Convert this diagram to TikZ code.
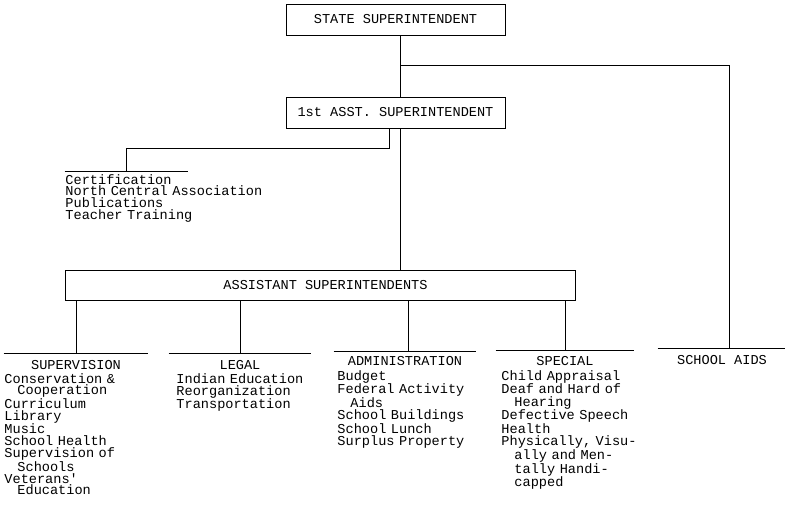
\documentclass[tikz,border=0pt]{standalone}
\usepackage{fontspec}
\setmonofont{Liberation Mono}
\usetikzlibrary{positioning, calc}
\newcommand{\typew}{\ttfamily\fontsize{13.6}{12.4}\selectfont}
\newcommand{\cont}{\hspace*{13pt}}
\tikzset{
    office/.style = {draw=black, inner sep=0pt, text centered,
        minimum height=31pt, font=\typew},
    depthead/.style = {inner xsep=0pt, inner ysep=7pt, text height=9pt,
        text depth=0pt, text centered, minimum width=#1, anchor=north, font=\typew},
    duties/.style = {inner sep=0pt, text width=210pt, align=left, anchor=base west,
        font=\typew\fontsize{13.6}{#1}\selectfont},
    duties/.default = 12.4,
}

\begin{document}
\begin{tikzpicture}[x=1pt, y=-1pt, line width=0.9pt]
    \useasboundingbox (0,0) rectangle (785,507);

    % offices
    \node (state) [office, minimum width=219pt] at (395.5,19.5) {STATE SUPERINTENDENT};
    \node (first) [office, minimum width=219pt] at (395.5,112.5) {1st ASST. SUPERINTENDENT};
    \node (asst) [office, minimum width=510pt, minimum height=30pt] at (320,285)
        {\hspace*{11pt}ASSISTANT SUPERINTENDENTS};

    % divisions under the bars
    \node (suphead) [depthead=144pt] at (76,353) {SUPERVISION};
    \node (leghead) [depthead=142pt] at (240,353) {LEGAL};
    \node (admhead) [depthead=142pt, inner ysep=5pt] at (405,351) {ADMINISTRATION};
    \node (spchead) [depthead=138pt, inner ysep=6pt] at (565,350) {SPECIAL};
    \node (aidhead) [depthead=128pt] at (722,348) {SCHOOL AIDS};
    \node (cert) [depthead=123pt, text height=0pt, inner ysep=0pt] at (126.5,171) {};
    \foreach \h in {suphead, leghead, admhead, spchead, aidhead, cert}
        \draw (\h.north west) -- (\h.north east);

    \node (certitems) [duties=11.7] at (65,184) {Certification\\North Central Association\\Publications\\Teacher Training};
    \node (supitems) [duties=11.8] at (4,383) {Conservation \&\\\cont Cooperation\\Curriculum\\Library\\Music\\School Health\\Supervision of\\\cont Schools\\Veterans'\\\cont Education};
    \node (legitems) [duties=12] at (176,383) {Indian Education\\Reorganization\\Transportation};
    \node (admitems) [duties=12.45] at (337,380) {Budget\\Federal Activity\\\cont Aids\\School Buildings\\School Lunch\\Surplus Property};
    \node (spcitems) [duties=12.45] at (501,380) {Child Appraisal\\Deaf and Hard of\\\cont Hearing\\Defective Speech\\Health\\Physically, Visu-\\\cont ally and Men-\\\cont tally Handi-\\\cont capped};

    % lines of authority
    \coordinate (split) at (400,65);
    \coordinate (certdrop) at (389,148);
    \draw (state.south -| split) -- (first.north -| split);
    \draw (split) -| ([xshift=7pt]aidhead.north);
    \draw (first.south -| certdrop) -- (certdrop) -| (cert.north);
    \draw (first.south -| split) -- (asst.north -| split);
    \foreach \h in {suphead, leghead, spchead}
        \draw (asst.south -| \h.north) -- (\h.north);
    \draw (asst.south -| 408,0) -- (admhead.north -| 408,0);
\end{tikzpicture}
\end{document}
